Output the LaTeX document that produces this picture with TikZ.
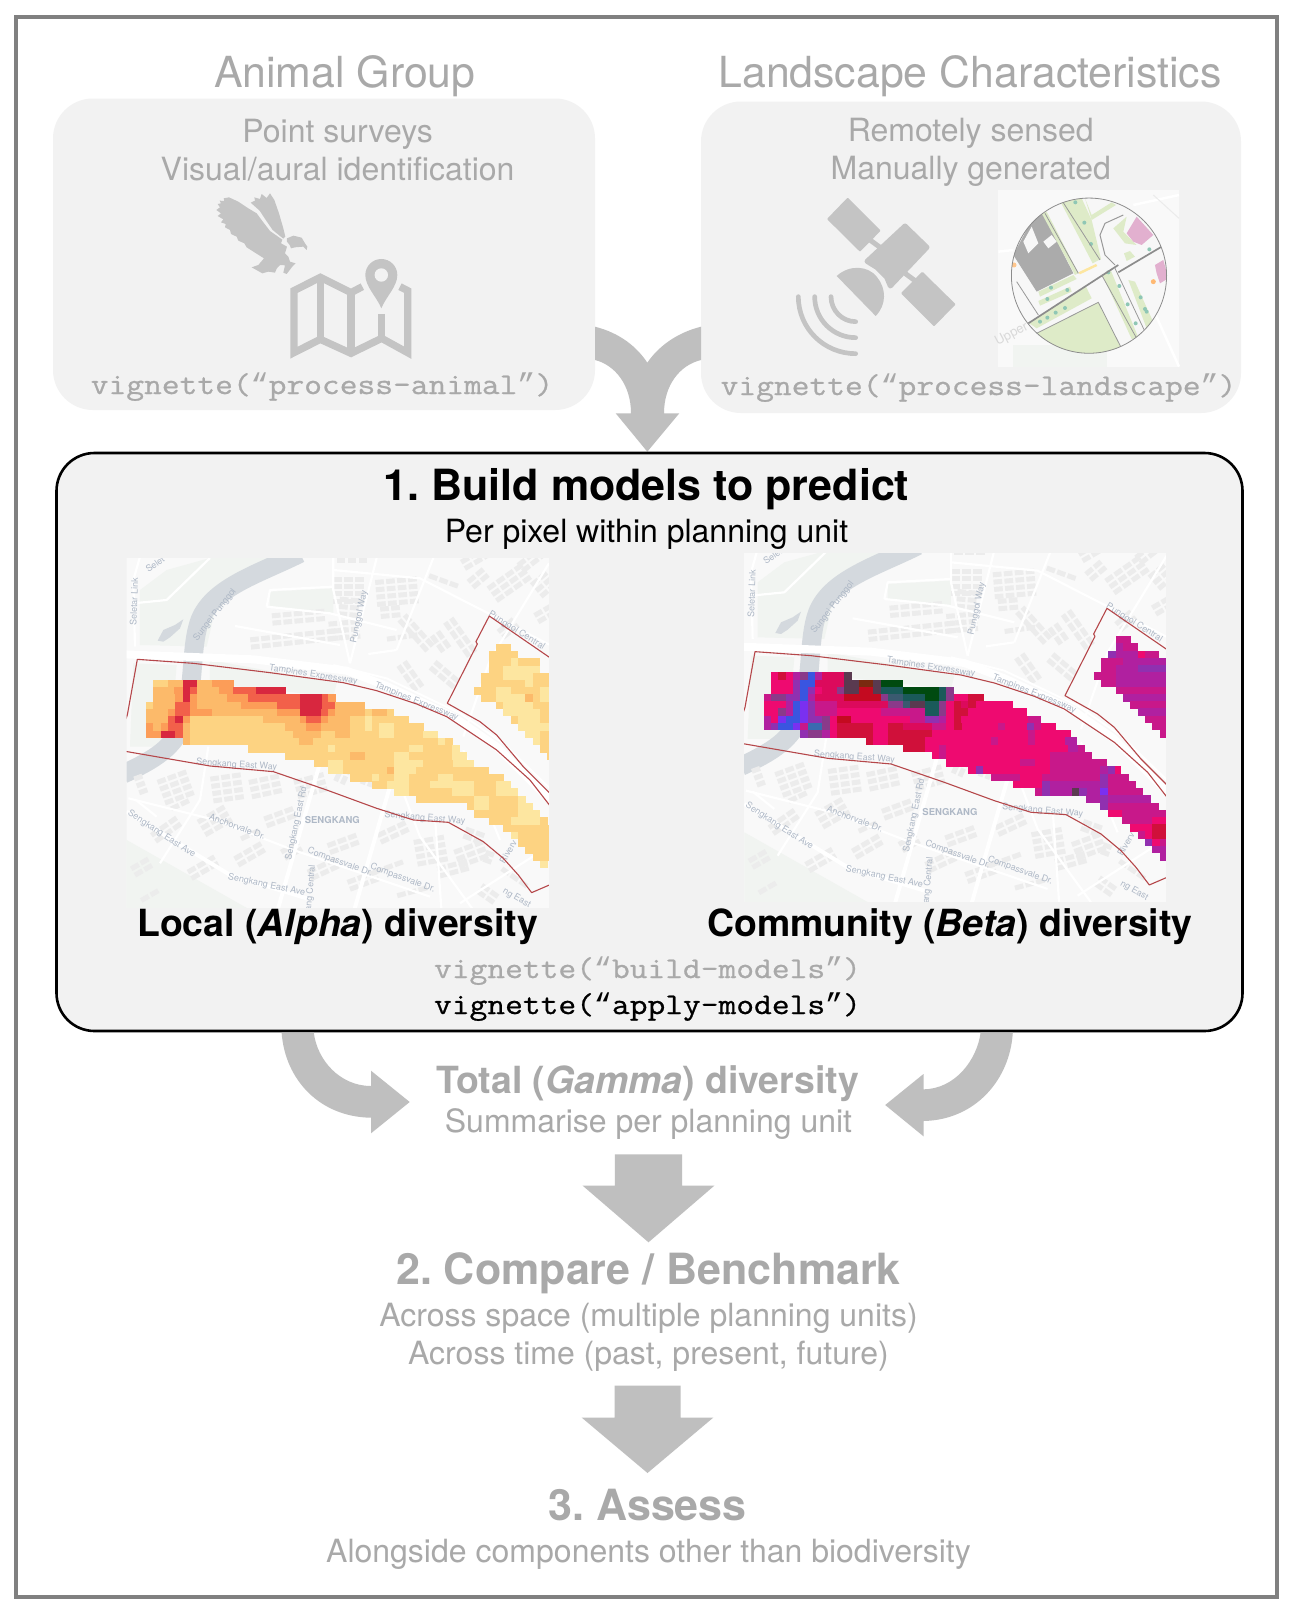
\documentclass[tikz,border=0pt]{standalone}
\usepackage{fontspec}
\setmainfont{TeX Gyre Heros}
\newfontfamily\vigfont[FakeStretch=1.15,FakeBold=0.8]{Latin Modern Mono}
\newfontfamily\qf{Liberation Mono}
\newcommand\VQ[1]{{\qf #1}}
\definecolor{txt}{HTML}{A9A9A9}
\definecolor{arr}{HTML}{BFBFBF}
\definecolor{ico}{HTML}{C4C4C4}
\definecolor{pan}{HTML}{F2F2F2}
\definecolor{mapbg}{HTML}{F9F9F9}
\definecolor{bldg}{HTML}{ECECEC}
\definecolor{riv}{HTML}{D4D9DE}
\definecolor{park}{HTML}{F1F4F1}
\definecolor{bnd}{HTML}{B5474A}
\definecolor{lab}{HTML}{AEB8C6}
\definecolor{lgr}{HTML}{DEEBC8}
\definecolor{tree}{HTML}{8FC7B5}
\definecolor{pnk}{HTML}{E2B0CF}
% left heat colours
\definecolor{ha}{HTML}{FDE6A0}
\definecolor{hb}{HTML}{FDD382}
\definecolor{hc}{HTML}{FCBA6A}
\definecolor{hd}{HTML}{FC9D58}
\definecolor{he}{HTML}{F2604A}
\definecolor{hf}{HTML}{D8273F}
% right heat colours
\definecolor{pk}{HTML}{EE0A70}
\definecolor{lp}{HTML}{DC0A5C}
\definecolor{cr}{HTML}{D0103A}
\definecolor{rd}{HTML}{C40A20}
\definecolor{mg}{HTML}{C8188A}
\definecolor{mp}{HTML}{B020A0}
\definecolor{pu}{HTML}{9030B0}
\definecolor{vi}{HTML}{7A30F0}
\definecolor{bl}{HTML}{3A55E0}
\definecolor{bd}{HTML}{3A6AB0}
\definecolor{gn}{HTML}{004A10}
\definecolor{te}{HTML}{1A5A5A}
\definecolor{tb}{HTML}{3A5A70}
\definecolor{dg}{HTML}{5A3A50}
\definecolor{br}{HTML}{7A2A10}
\definecolor{pd}{HTML}{8A3A8A}
\tikzset{
  tx/.style={anchor=base,inner sep=0pt,align=center},
  head/.style={tx,text=txt,font=\fontsize{42.8}{42.8}\selectfont},
  sub/.style={tx,text=txt,font=\fontsize{32}{32}\selectfont},
  bhead/.style={tx,text=txt,font=\fontsize{43}{43}\selectfont\bfseries},
  bsub/.style={tx,font=\fontsize{37.4}{37.4}\selectfont\bfseries},
  vig/.style={tx,font=\fontsize{30}{30}\vigfont},
  panel/.style={fill=pan,rounded corners=40pt},
  blockarrow/.style={fill=arr},
  icon/.style={fill=ico},
  maplab/.style={inner sep=0pt,text=lab,font=\fontsize{9}{9}\selectfont},
  road/.style={draw=white,line width=2.2pt,line join=round},
  bigroad/.style={draw=white,line width=4pt,line join=round},
  bndline/.style={draw=bnd,line width=1.1pt,line join=round},
}
\newcommand\HR[2]{\pgfmathsetmacro\hyy{\hy+21.7*(#1)}\foreach \ha/\hb/\hcol in {#2}{\fill[\hcol] (\ha,\hyy) rectangle (\hb+0.8,\hyy+22.5);}}
\newcommand\BL[5]{\begin{scope}[shift={(#1,#2)},rotate=#3]\foreach \bi in {1,...,#4}{\foreach \bj in {1,...,#5}{\fill[bldg] ({(\bi-1)*33},{(\bj-1)*22}) rectangle ++(26,15);}}\end{scope}}
\newcommand\BaseMap{%
  \fill[mapbg] (0,0) rectangle (1300,1100);
  \fill[park] (60,285)--(60,120)--(140,60)--(270,24)--(530,24)--(370,100)--(290,160)--(260,290)--cycle;
  \fill[park] (450,170)--(450,125)--(640,115)--(640,190)--cycle;
  \fill[park] (270,330)--(650,400)--(640,440)--(270,400)--cycle;
  \fill[park] (20,870)--(400,1085)--(20,1085)--cycle;
  \fill[park] (40,340)--(170,345)--(150,590)--(30,590)--cycle;
  \draw[riv,line width=19pt] (540,10) .. controls (420,70) and (280,110) .. (240,210) .. controls (210,290) and (225,420) .. (190,510) .. controls (170,590) and (100,630) .. (10,672);
  \fill[riv] (113,272)--(130,240)--(165,225)--(190,208)--(180,235)--(150,262)--(130,275)--cycle;
  \BL{390}{262}{6}{9}{2}\BL{455}{190}{5}{5}{2}\BL{625}{215}{5}{3}{3}\BL{640}{80}{0}{3}{4}
  \BL{765}{90}{5}{4}{4}\BL{650}{24}{0}{3}{1}\BL{860}{190}{-48}{4}{2}\BL{950}{330}{-40}{3}{2}
  \BL{1100}{110}{35}{4}{3}\BL{1190}{40}{38}{3}{2}\BL{800}{260}{8}{3}{1}\BL{1000}{200}{-55}{4}{2}
  \BL{930}{70}{-20}{3}{1}\BL{860}{330}{-55}{3}{2}\BL{1240}{190}{30}{2}{2}
  \BL{110}{690}{20}{3}{4}\BL{270}{680}{8}{3}{4}\BL{385}{690}{12}{3}{3}\BL{90}{850}{35}{3}{2}
  \BL{230}{810}{30}{3}{3}\BL{340}{920}{30}{3}{2}\BL{480}{900}{30}{2}{2}\BL{640}{690}{65}{3}{2}
  \BL{620}{880}{20}{3}{2}\BL{770}{850}{25}{3}{2}\BL{880}{870}{10}{3}{4}\BL{1000}{900}{20}{3}{3}
  \BL{680}{990}{20}{3}{2}\BL{830}{1030}{15}{3}{1}\BL{1090}{1000}{-35}{2}{2}\BL{60}{1045}{30}{2}{1}
  \BL{1040}{830}{-20}{2}{2}\BL{1100}{900}{-20}{1}{2}
  \BL{660}{140}{-5}{2}{3}\BL{780}{170}{5}{2}{2}\BL{1040}{90}{40}{2}{2}\BL{1020}{30}{30}{3}{2}
  \BL{1230}{100}{40}{2}{3}\BL{1130}{240}{40}{2}{2}\BL{960}{240}{-55}{2}{2}
  \BL{520}{690}{15}{3}{3}\BL{430}{800}{20}{3}{2}\BL{560}{960}{25}{3}{2}\BL{720}{700}{70}{3}{2}
  \BL{760}{960}{20}{3}{1}\BL{950}{950}{15}{3}{2}\BL{1150}{950}{-35}{3}{1}\BL{200}{960}{30}{3}{2}
  \BL{30}{950}{30}{2}{2}\BL{40}{680}{20}{1}{3}\BL{150}{770}{25}{2}{1}\BL{360}{860}{25}{2}{1}
  \draw[bigroad,line width=8pt] (10,313) -- (400,328) -- (680,362) -- (800,408) -- (1000,500) -- (1130,590) -- (1300,760);
  \draw[road,line width=2pt] (640,345) -- (800,385) -- (1020,490) -- (1150,580) -- (1300,725);
  \draw[bigroad] (470,1090) -- (640,500);
  \draw[bigroad] (700,1090) -- (830,640);
  \draw[bigroad] (20,785) -- (330,975) -- (560,1045);
  \draw[road] (25,745) -- (285,810) -- (520,900) -- (930,1040);
  \draw[road] (265,590) -- (240,750) -- (120,940);
  \draw[road] (945,800) -- (965,1090);
  \draw[road] (1020,1060) -- (1300,880);
  \draw[road] (640,24) -- (640,120) -- (690,340);
  \draw[road] (770,24) -- (690,340);
  \draw[road] (640,60) -- (900,85) -- (1300,290);
  \draw[road] (440,170) -- (630,190) -- (830,240);
  \draw[road] (345,228) -- (660,285);
  \draw[road] (440,170) -- (450,120) -- (640,110);
  \draw[road] (940,24) -- (830,300);
  \draw[road] (1287,40) -- (1110,330) -- (1030,560);
  \draw[road] (745,312) -- (830,300);
  \draw[road] (60,20) -- (40,90) -- (45,290);
  \draw[road] (40,160) -- (140,150) -- (270,24);
  \draw[road] (820,650) -- (900,860) -- (1060,1080);
  \draw[road] (45,748) -- (110,800);
  \draw[road] (1030,600) -- (1140,870);
  \node[maplab,rotate=88] (l1) at (42,155) {Seletar Link};
  \node[maplab,rotate=35] (l2) at (105,42) {Selet};
  \node[maplab,rotate=52] (l3) at (285,195) {Sungei Punggol};
  \node[maplab,rotate=78] (l4) at (718,200) {Punggol Way};
  \node[maplab,rotate=-9] (l5) at (580,375) {Tampines Expressway};
  \node[maplab,rotate=-22] (l6) at (890,455) {Tampines Expressway};
  \node[maplab,rotate=-32] (l7) at (1190,242) {Punggol Central};
  \node[maplab,rotate=-4] (l8) at (350,645) {Sengkang East Way};
  \node[maplab,font=\fontsize{9.5}{9.5}\selectfont\bfseries] (l9) at (637,810) {SENGKANG};
  \node[maplab,rotate=-20] (l10) at (352,830) {Anchorvale Dr.};
  \node[maplab,rotate=-33] (l11) at (125,852) {Sengkang East Ave};
  \node[maplab,rotate=-12] (l12) at (440,1005) {Sengkang East Ave};
  \node[maplab,rotate=78] (l13) at (530,820) {Sengkang East Rd};
  \node[maplab,rotate=-20] (l14) at (660,937) {Compassvale Dr.};
  \node[maplab,rotate=-20] (l15) at (848,985) {Compassvale Dr.};
  \node[maplab,rotate=-5] (l16) at (915,805) {Sengkang East Way};
  \node[maplab,rotate=85] (l17) at (572,1015) {ang Central};
  \node[maplab,rotate=60] (l18) at (1165,905) {Riverv};
  \node[maplab,rotate=-30] (l19) at (1190,1045) {ng East};
  \draw[bndline] (10,530) -- (22,495) -- (52,328) -- (220,340) -- (450,368) -- (670,398) -- (770,422) -- (890,462) -- (980,500) -- (1040,540) -- (1130,600) -- (1230,690) -- (1300,780);
  \draw[bndline] (10,603) -- (270,648) -- (460,665) -- (620,720) -- (770,775) -- (880,810) -- (985,817) -- (1090,875) -- (1150,925) -- (1195,975) -- (1235,1028) -- (1300,1000);
  \draw[bndline] (1300,330) -- (1108,198) -- (1068,275) -- (1072,282) -- (982,460) -- (1080,515) -- (1130,555) -- (1210,650) -- (1300,740);
}
\begin{document}
\frenchspacing
\begin{tikzpicture}[x=1pt,y=-1pt]
\useasboundingbox (0,0) rectangle (1294,1614);
\fill[white] (0,0) rectangle (1294,1614);
\draw[color=black!50,line width=4pt] (16,17) rectangle (1277,1597);
% top panels
\fill[panel] (53,98.5) rectangle (595,410);
\fill[panel] (701,101.5) rectangle (1241,413);
% top twin arrow
\fill[blockarrow] (595,326.7) .. controls (620,333) and (637,347) .. (647.3,362.7) .. controls (658,347) and (676,333) .. (701,326.7) -- (701,360) .. controls (680,365) and (664,385) .. (664,413.3) -- (679.3,413.3) -- (647.3,451.7) -- (615.7,413.3) -- (631,413.3) .. controls (631,385) and (615,365) .. (595,360) -- cycle;
% main panel
\draw[fill=pan,draw=black,line width=2.6pt,rounded corners=38pt] (56.5,453) rectangle (1242.5,1031);
% lower arrows
\fill[blockarrow] (281.6,1032.5) .. controls (285,1080) and (320,1117) .. (371,1117.7) -- (371,1133.3) -- (409.7,1102) -- (371,1070.7) -- (371,1086) .. controls (340,1086) and (317,1060) .. (313.8,1032.5) -- cycle;
\fill[blockarrow] (1012.8,1032.5) .. controls (1010,1080) and (975,1120) .. (923.5,1121) -- (923.5,1136.3) -- (885.2,1105) -- (923.5,1074) -- (923.5,1089.3) .. controls (955,1089) and (977,1060) .. (980.6,1032.5) -- cycle;
\fill[blockarrow] (614.8,1154.3) -- (682,1154.3) -- (682,1185.7) -- (714.3,1185.7) -- (648.5,1242.3) -- (582.7,1185.7) -- (614.8,1185.7) -- cycle;
\fill[blockarrow] (614.5,1385.6) -- (680.5,1385.6) -- (680.5,1417.5) -- (713.4,1417.5) -- (647.5,1473) -- (581.6,1417.5) -- (614.5,1417.5) -- cycle;
% texts
\node[head] (animal) at (344.8,87) {Animal Group};
\node[head] (land) at (970,87) {Landscape Characteristics};
\node[sub] (ps) at (337.6,142) {Point surveys};
\node[sub] (va) at (337.6,180) {Visual/aural identification};
\node[sub] (rs) at (970.7,141) {Remotely sensed};
\node[sub] (mg2) at (970.7,179) {Manually generated};
\node[vig,text=txt] (v1) at (322,394) {vignette(\VQ{“}process-animal\VQ{”})};
\node[vig,text=txt] (v2) at (978.5,395) {vignette(\VQ{“}process-landscape\VQ{”})};
\node[bhead,text=black] (t1) at (646.5,500) {1. Build models to predict};
\node[sub,text=black] (t1s) at (646.5,542) {Per pixel within planning unit};
% ---- eagle and folded map
\begin{scope}[shift={(205,190)},x=0.3333pt,y=-0.3333pt]
  % big wing and body
  \fill[icon] (38,42)--(48,40)--(44,32)--(58,33)--(56,25)--(72,22)--(100,35)--(130,55)--(155,70)--(172,93)--(195,123)--(232,149)--(228,160)--(246,170)--(240,190)--(250,200)--(255,215)--(272,220)--(262,230)--(245,252)--(235,248)--(240,226)--(225,225)--(215,236)--(210,248)--(190,245)--(172,250)--(140,232)--(160,225)--(177,205)--(150,188)--(125,172)--(118,160)--(100,152)--(95,140)--(78,132)--(75,120)--(60,112)--(62,102)--(48,97)--(55,88)--(38,78)--(48,70)--(34,60)--(45,52)--cycle;
  % upper wing
  \fill[icon] (137,38)--(150,32)--(148,22)--(165,27)--(170,12)--(185,24)--(195,10)--(208,30)--(222,70)--(235,115)--(241,140)--(235,146)--(203,120)--(181,88)--(164,62)--cycle;
  % head
  \fill[icon] (246,145)--(265,137)--(290,143)--(300,160)--(307,170)--(305,180)--(295,170)--(270,172)--(258,175)--(254,165)--(246,155)--cycle;
  % folded map
  \draw[ico,line width=7.3pt,miter limit=10] (472,290) -- (438,308) -- (346,262) -- (267,302) -- (267,488) -- (346,448) -- (438,490) -- (530,445) -- (608,488) -- (608,302) -- (585,290);
  \draw[ico,line width=7.3pt] (346,262) -- (346,448);
  \draw[ico,line width=7.3pt] (438,308) -- (438,490);
  \draw[ico,line width=7.3pt] (530,372) -- (530,445);
  \fill[icon] (529,355) .. controls (515,320) and (481,290) .. (481,255) .. controls (481,228) and (503,207) .. (529,207) .. controls (555,207) and (577,228) .. (577,255) .. controls (577,290) and (543,320) .. (529,355) -- cycle;
  \fill[pan] (529,255) circle [radius=6.7pt];
\end{scope}
% ---- satellite
\begin{scope}[shift={(785,190)},x=0.3333pt,y=-0.3333pt]
  \draw[icon,draw=ico,line width=2pt,line join=round] (188,27)--(283,122)--(225,181)--(130,87)--cycle;
  \draw[icon,draw=ico,line width=2pt,line join=round] (412,249)--(508,343)--(447,405)--(352,310)--cycle;
  \draw[ico,line width=5pt] (255,150) -- (285,172);
  \draw[ico,line width=5pt] (360,250) -- (390,272);
  \draw[icon,draw=ico,line width=5pt,line join=round] (360,108)--(426,172)--(316,288)--(305,262)--(275,232)--(246,214)--cycle;
  \fill[icon] (155,258) .. controls (195,222) and (250,228) .. (275,260) .. controls (305,295) and (305,345) .. (272,378) -- cycle;
  \draw[ico,line width=4.7pt,line cap=round] (138,320) .. controls (138,361) and (171,395) .. (212,395);
  \draw[ico,line width=4.7pt,line cap=round] (89,320) .. controls (89,388) and (144,443) .. (212,443);
  \draw[ico,line width=4.7pt,line cap=round] (40,320) .. controls (40,415) and (117,491) .. (212,491);
\end{scope}
% ---- landscape map circle
\begin{scope}[shift={(990,185)},x=0.3333pt,y=-0.3333pt]
  \fill[color=mapbg] (25,15) rectangle (567,545);
  \fill[park] (70,480)--(350,480)--(350,545)--(70,545)--cycle;
  \draw[white,line width=2.5pt] (25,200)--(70,195);
  \draw[white,line width=2.5pt] (430,60)--(567,30);
  \draw[white,line width=2.5pt] (470,330)--(567,545);
  \draw[color=black!8,line width=1pt] (490,30)--(567,100);
  \node[inner sep=0pt,rotate=28,text=black!15,font=\fontsize{13}{13}\selectfont] (up) at (90,435) {Upper Th};
  \begin{scope}
    \clip (297,272) circle [radius=77.6pt];
    \fill[white!97!black] (40,20) rectangle (560,540);
    \fill[color=black!33] (70,210)--(115,125)--(158,83)--(250,265)--(140,320)--cycle;
    \fill[white!97!black] (100,170)--(125,125)--(145,175)--(115,205)--cycle;
    \fill[white!97!black] (160,170)--(185,150)--(200,170)--(175,190)--cycle;
    \fill[lgr] (213,53)--(275,40)--(305,105)--(333,222)--(308,235)--cycle;
    \fill[lgr] (285,40)--(305,90)--(365,52)--(378,60)--(305,105)--cycle;
    \fill[lgr] (155,85)--(170,80)--(265,265)--(255,270)--cycle;
    \fill[lgr] (145,320)--(250,270)--(260,282)--(150,335)--cycle;
    \fill[lgr] (145,348)--(240,305)--(245,320)--(150,362)--cycle;
    \fill[lgr] (118,415)--(288,305)--(305,340)--(140,430)--cycle;
    \fill[lgr] (140,445)--(325,352)--(393,487)--(330,510)--(260,510)--(195,490)--cycle;
    \fill[lgr] (338,272)--(362,255)--(445,458)--(425,462)--cycle;
    \fill[lgr] (415,285)--(435,290)--(487,405)--(470,430)--cycle;
    \fill[lgr] (370,130)--(410,95)--(400,140)--(440,180)--(405,175)--cycle;
    \fill[lgr] (402,205)--(420,198)--(435,215)--(410,228)--cycle;
    \fill[pnk] (410,145)--(440,95)--(490,150)--(455,180)--(430,170)--cycle;
    \fill[pnk] (495,240)--(520,225)--(535,280)--(510,295)--(500,265)--cycle;
    \fill[orange!55] (490,290) circle [radius=2.5pt];
    \fill[orange!45] (72,240) circle [radius=2.5pt];
    \fill[ha] (265,262)--(318,237)--(322,243)--(270,268)--cycle;
    \foreach \tx/\ty in {256/52,283/113,303/177,183/308,232/315,172/342,150/410,172/398,197/383,225/369,355/262,388/303,413/358,437/415,452/337,465/372,470/380,478/193}{\fill[tree] (\tx,\ty) circle [radius=2pt];}
    \draw[color=black!45,line width=1.7pt] (115,415)--(385,240);
    \draw[color=black!45,line width=1.7pt] (385,262)--(515,185);
    \draw[color=black!40,line width=.8pt] (335,270)--(440,460);
    \draw[color=black!40,line width=.8pt] (375,250)--(465,440);
    \draw[color=black!40,line width=.8pt] (165,85)--(265,265);
    \draw[color=black!40,line width=.8pt] (218,50)--(330,225);
    \draw[color=black!40,line width=.8pt] (80,290)--(145,390);
    \draw[color=black!40,line width=1pt] (400,90)--(345,115)--(330,150)--(345,210)--(375,240);
    \draw[color=black!40,line width=.8pt] (140,445)--(325,352)--(393,487);
  \end{scope}
  \draw[color=black!45,line width=.8pt] (297,272) circle [radius=77.6pt];
\end{scope}
% ---- left map
\begin{scope}[shift={(120,550)},x=0.3333pt,y=-0.3333pt]
  \begin{scope}
    \clip (20,24) rectangle (1287,1072);
    \BaseMap
    \def\hy{390}
    \HR{0}{100/144/hb,144/188/hc,188/232/hf,232/276/hc,276/340/hd}
    \HR{1}{100/162/hc,162/188/hd,188/210/hf,210/232/he,232/298/hc,298/340/hd,340/408/he,408/496/hf}
    \HR{2}{100/166/hc,166/188/hd,188/210/hf,210/232/hd,232/320/hc,320/384/hd,384/470/he,470/540/he,540/606/hf,606/624/he,624/646/hd}
    \HR{3}{78/100/hb,100/166/hc,166/210/he,210/232/hd,232/364/hc,364/470/hd,470/540/he,540/606/hf,606/624/he,624/646/he,646/734/hc}
    \HR{4}{78/144/hc,144/166/hd,166/210/he,210/276/hd,276/320/hc,320/470/hc,470/540/hd,540/602/hf,602/624/he,624/646/hd,646/734/hc,734/756/hb,756/800/hc,800/822/hb}
    \HR{5}{78/144/hc,144/166/he,166/188/hf,188/210/hd,210/430/hb,430/540/hc,540/558/hd,558/602/he,602/624/hd,624/690/hc,690/734/hb,734/756/ha,756/866/hb}
    \HR{6}{78/100/hd,100/122/hc,122/144/hd,144/188/he,188/210/hc,210/496/hb,496/558/hc,558/602/hd,602/690/hc,690/734/hb,734/756/ha,756/778/hb,778/822/ha,822/910/hb}
    \HR{7}{78/122/hd,122/166/hf,166/188/he,188/210/hc,210/518/hb,518/602/hc,602/646/hb,646/690/hc,690/778/hb,778/822/ha,822/910/hb,910/954/ha}
    \HR{8}{188/210/hc,210/536/hb,536/580/hc,580/866/hb,866/954/hb,954/976/ha,976/998/hb}
    \HR{9}{384/624/hb,624/646/ha,646/866/hb,866/910/ha,910/996/hb,996/1018/ha}
    \HR{10}{496/690/hb,690/734/hc,734/822/hb,822/866/ha,866/954/hb,954/996/hb,996/1040/ha}
    \HR{11}{582/624/hb,624/668/ha,668/822/hb,822/910/ha,910/998/hb,998/1062/ha}
    \HR{12}{624/668/ha,668/800/hb,800/822/hc,822/888/ha,888/1106/hb}
    \HR{13}{690/756/hb,756/778/ha,778/822/hb,822/866/ha,866/954/hb,954/1000/ha,1000/1150/hb}
    \HR{14}{756/800/hb,800/866/ha,866/930/hb,930/1062/ha,1062/1128/hb,1128/1172/ha}
    \HR{15}{822/866/ha,866/996/hb,996/1062/ha,1062/1128/hb,1128/1194/ha}
    \HR{16}{888/1040/hb,1040/1062/hb,1062/1106/ha,1106/1194/hb,1194/1216/ha}
    \HR{17}{1040/1062/hb,1062/1106/ha,1106/1194/hb,1194/1238/ha}
    \HR{18}{1062/1106/hb,1106/1194/hb,1194/1260/ha}
    \HR{19}{1106/1172/hb,1172/1194/ha,1194/1260/ha,1260/1282/hb}
    \HR{20}{1150/1172/hb,1172/1287/hb}
    \HR{21}{1172/1194/ha,1194/1287/hb}
    \HR{22}{1194/1287/hb}
    \HR{23}{1216/1287/hb}
    \HR{24}{1238/1287/hb}
    \HR{25}{1260/1282/ha}
    % upper-right chunk
    \HR{-5}{1128/1172/hb}
    \HR{-4}{1106/1194/hb}
    \HR{-3}{1106/1172/hb,1172/1194/ha,1194/1260/hb}
    \HR{-2}{1106/1150/hb,1150/1260/ha}
    \HR{-1}{1084/1150/hb,1150/1216/ha,1216/1238/ha,1238/1287/hb}
    \HR{0}{1084/1128/hb,1128/1172/hb,1172/1216/hb,1216/1238/ha,1238/1260/hb,1260/1287/hb}
    \HR{1}{1062/1128/hb,1128/1150/ha,1150/1172/ha,1172/1216/hb,1216/1238/hb,1238/1260/hb,1260/1287/ha}
    \HR{2}{1084/1128/hb,1128/1172/ha,1172/1216/ha,1216/1238/hc,1238/1260/hb,1260/1287/ha}
    \HR{3}{1128/1150/hb,1150/1238/ha,1238/1287/hb}
    \HR{4}{1150/1172/ha,1172/1194/ha,1194/1260/ha,1260/1287/hb}
    \HR{5}{1172/1194/hb,1194/1260/ha,1260/1287/hb}
    \HR{6}{1194/1216/ha,1216/1238/ha,1238/1287/ha}
    \HR{7}{1216/1260/ha,1260/1287/hb}
    \HR{8}{1238/1260/ha,1260/1287/hb}
    \HR{9}{1260/1287/hb}
    \HR{10}{1282/1287/hb}
  \end{scope}
\end{scope}
% ---- right map
\begin{scope}[shift={(737.67,542.33)},x=0.3333pt,y=-0.3333pt]
  \begin{scope}
    \clip (19,33) rectangle (1285,1078);
    \BaseMap
  \end{scope}
\end{scope}
\begin{scope}[shift={(735,550)},x=0.3333pt,y=-0.3333pt]
  \begin{scope}
    \clip (27,10) rectangle (1293,1055);
    \def\hy{367}
    \HR{0}{108/130/pk,130/152/cr,152/174/pk,174/196/mp,196/218/pd,218/240/bl,240/262/mp,262/328/lp,328/349/dg}
    \HR{1}{108/174/pk,174/196/pu,196/240/bl,240/328/lp,328/349/dg,349/371/dg,371/415/br,415/437/dg,437/504/gn}
    \HR{2}{108/174/pk,174/196/pu,196/218/bl,218/240/pu,240/262/pk,262/306/lp,306/328/pd,328/371/dg,371/415/rd,415/437/dg,437/504/te,504/612/gn,612/634/te,634/656/pd}
    \HR{3}{86/108/mg,108/152/pd,152/174/pu,174/196/pu,196/218/bl,218/240/mp,240/328/lp,328/437/rd,437/460/pd,460/504/tb,504/570/te,570/612/gn,612/634/te,634/656/pd,656/700/pk,700/745/cr}
    \HR{4}{86/152/pk,152/174/mp,174/196/bl,196/218/vi,218/240/pu,240/306/mg,306/460/lp,460/504/pd,504/526/tb,526/548/dg,548/570/dg,570/612/te,612/634/pd,634/656/pk,656/678/cr,678/700/lp,700/722/cr,722/832/pk}
    \HR{5}{86/130/pk,130/152/pd,152/174/mp,174/196/bl,196/218/vi,218/240/pu,240/306/mg,306/437/pk,437/570/mg,570/612/te,612/634/pd,634/656/pk,656/700/cr,700/876/pk}
    \HR{6}{86/108/mp,108/130/pk,130/152/vi,152/196/bl,196/218/vi,218/262/pu,262/284/pd,284/306/pk,306/349/rd,349/526/pk,526/570/mg,570/612/pu,612/634/mp,634/656/pk,656/678/cr,678/880/pk,880/918/mg}
    \HR{7}{86/108/mp,108/130/pu,130/174/bl,174/196/vi,196/218/mg,218/262/bd,262/284/pd,284/306/pk,306/415/cr,415/460/pk,460/504/cr,504/592/lp,592/634/mg,634/656/pk,656/680/cr,680/790/pk,790/810/mg,810/876/pk,876/898/pu,898/918/mg,918/962/pk}
    \HR{8}{196/218/pu,218/262/pd,262/284/mp,284/306/pk,306/415/cr,415/460/pk,460/592/cr,592/880/pk,880/900/mg,900/1006/pk}
    \HR{9}{393/415/cr,415/460/pk,460/570/cr,570/768/pk,768/790/mg,790/880/pk,880/900/mg,900/990/pk,990/1026/mp}
    \HR{10}{504/570/cr,570/612/pk,612/634/mg,634/1000/pk,1000/1030/mp,1030/1048/mg}
    \HR{11}{592/612/pk,612/634/mg,634/945/pk,945/1000/mg,1000/1070/mg}
    \HR{12}{634/855/pk,855/900/mg,900/945/pk,945/1114/mg}
    \HR{13}{700/722/pk,722/744/pu,744/945/pk,945/1095/mg,1095/1118/mp,1118/1140/pu,1140/1158/pk}
    \HR{14}{768/855/mg,855/920/pk,920/1095/mg,1095/1118/pu,1118/1180/mg}
    \HR{15}{834/920/pk,920/945/pu,945/1055/mp,1055/1095/mp,1095/1118/pu,1118/1202/mg}
    \HR{16}{900/920/mg,920/945/pu,945/1010/mp,1010/1032/dg,1032/1055/pu,1055/1095/mp,1095/1118/vi,1118/1224/mg}
    \HR{17}{1052/1095/mp,1095/1118/pu,1118/1246/mp}
    \HR{18}{1096/1118/pu,1118/1270/mg}
    \HR{19}{1118/1160/pk,1160/1293/mg}
    \HR{20}{1162/1250/mg,1250/1293/pk}
    \HR{21}{1184/1252/pk,1252/1293/cr}
    \HR{22}{1208/1230/mg,1230/1252/pk,1252/1293/cr}
    \HR{23}{1230/1252/pu,1252/1274/pk,1274/1293/mg}
    \HR{24}{1252/1293/mp}
    \HR{25}{1274/1293/mp}
    % upper-right chunk
    \HR{-5}{1142/1186/mg}
    \HR{-4}{1142/1164/mp,1164/1208/mg}
    \HR{-3}{1120/1142/pu,1142/1208/mp,1208/1230/pk,1230/1270/mg}
    \HR{-2}{1098/1164/mg,1164/1230/mp,1230/1293/mp}
    \HR{-1}{1098/1142/mg,1142/1208/mp,1208/1293/pu}
    \HR{0}{1076/1098/mg,1098/1142/mg,1142/1164/mp,1164/1293/mp}
    \HR{1}{1098/1142/mg,1142/1293/mp}
    \HR{2}{1142/1293/mg}
    \HR{3}{1164/1293/mp}
    \HR{4}{1186/1293/mg}
    \HR{5}{1208/1293/mp}
    \HR{6}{1230/1293/mg}
    \HR{7}{1252/1293/mg}
    \HR{8}{1274/1293/mg}
  \end{scope}
\end{scope}
% labels over maps
\node[bsub,text=black] (la) at (337.6,936) {Local (\textit{Alpha}) diversity};
\node[bsub,text=black] (lb) at (950,936) {Community (\textit{Beta}) diversity};
\node[vig,text=txt] (v3) at (647.5,978) {vignette(\VQ{“}build-models\VQ{”})};
\node[vig,text=black] (v4) at (647.5,1014) {vignette(\VQ{“}apply-models\VQ{”})};
\node[bsub,text=txt] (tg) at (647.5,1093) {Total (\textit{Gamma}) diversity};
\node[sub] (su) at (648.5,1132.7) {Summarise per planning unit};
\node[bhead] (t2) at (648.5,1284) {2. Compare / Benchmark};
\node[sub] (a1) at (648.5,1326) {Across space (multiple planning units)};
\node[sub] (a2) at (648.5,1364) {Across time (past, present, future)};
\node[bhead] (t3) at (647.5,1520) {3. Assess};
\node[sub] (a3) at (648.5,1562) {Alongside components other than biodiversity};
\end{tikzpicture}
\end{document}
